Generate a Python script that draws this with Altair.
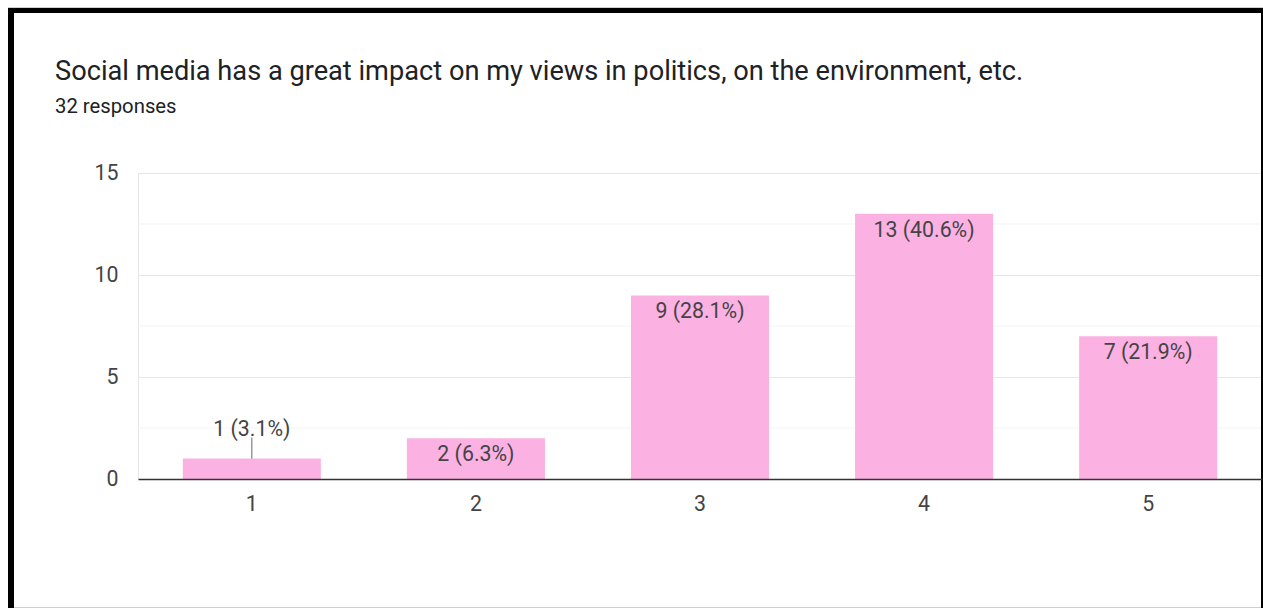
import altair as alt
import pandas as pd

# ---- data ----
categories = ["1", "2", "3", "4", "5"]
counts = [1, 2, 9, 13, 7]
percents = ["3.1%", "6.3%", "28.1%", "40.6%", "21.9%"]
y_ticks = [0, 5, 10, 15]
minor_ticks = [2.5, 7.5, 12.5]
title_text = "Social media has a great impact on my views in politics, on the environment, etc."
subtitle_text = "32 responses"

df = pd.DataFrame({
    "cat": categories,
    "count": counts,
    "label": [f"{c} ({p})" for c, p in zip(counts, percents)],
})
minor_df = pd.DataFrame({"v": minor_ticks})

W, H = 1124, 306
PAD = {"left": 138, "top": 173, "right": 1, "bottom": 129}
BAR = "#fcb1e3"
TXT = "#444444"
FONT = "Roboto"
FS = 21.3

x_enc = alt.X(
    "cat:N",
    sort=categories,
    scale=alt.Scale(paddingInner=0.384, paddingOuter=0.2),
    axis=alt.Axis(
        title=None, labelAngle=0, ticks=False, tickSize=0, domainColor="#333333",
        domainWidth=1.5, labelFontSize=FS, labelColor=TXT, labelFont=FONT,
        labelPadding=14, grid=False, zindex=1,
    ),
)
y_scale = alt.Scale(domain=[0, 15], nice=False)
y_enc = alt.Y(
    "count:Q",
    scale=y_scale,
    axis=alt.Axis(
        title=None, values=y_ticks, ticks=False, tickSize=0, domainColor="#e6e6e6",
        gridColor="#e6e6e6", labelFontSize=FS, labelColor=TXT, labelFont=FONT,
        labelPadding=20,
    ),
)

minor = alt.Chart(minor_df).mark_rule(color="#f3f3f3", strokeWidth=1).encode(
    y=alt.Y("v:Q", scale=y_scale)
)

bars = alt.Chart(df).mark_bar(color=BAR).encode(x=x_enc, y=y_enc)

inside = alt.Chart(df).transform_filter(alt.datum.count >= 2).mark_text(
    baseline="top", dy=6, fontSize=FS, font=FONT, color=TXT
).encode(x=alt.X("cat:N", sort=categories), y=alt.Y("count:Q", scale=y_scale), text="label:N")

outside = alt.Chart(df).transform_filter(alt.datum.count < 2).mark_text(
    baseline="alphabetic", dy=-23, fontSize=FS, font=FONT, color=TXT
).encode(x=alt.X("cat:N", sort=categories), y=alt.Y("count:Q", scale=y_scale), text="label:N")

leader = alt.Chart(df).transform_filter(alt.datum.count < 2).mark_rule(
    color="#666666", strokeWidth=1, y2Offset=-21
).encode(x=alt.X("cat:N", sort=categories), y=alt.Y("count:Q", scale=y_scale), y2="count:Q")

# title and subtitle as text
title_df = pd.DataFrame({"t": [title_text]})
sub_df = pd.DataFrame({"t": [subtitle_text]})
title = alt.Chart(title_df).mark_text(
    align="left", baseline="alphabetic", fontSize=27.2, font=FONT, color="#202124"
).encode(text="t:N", x=alt.value(55 - PAD["left"]), y=alt.value(80 - PAD["top"]))
subtitle = alt.Chart(sub_df).mark_text(
    align="left", baseline="alphabetic", fontSize=20.3, font=FONT, color="#202124"
).encode(text="t:N", x=alt.value(55 - PAD["left"]), y=alt.value(113 - PAD["top"]))

# screenshot frame (decoration)
frame_df = pd.DataFrame({"k": [0]})
L, T = PAD["left"], PAD["top"]
top_bar = alt.Chart(frame_df).mark_rule(color="black", strokeWidth=5).encode(
    x=alt.value(8 - L), x2=alt.value(1263 - L), y=alt.value(10.5 - T))
top_gray = alt.Chart(frame_df).mark_rule(color="#cfcfcf", strokeWidth=1).encode(
    x=alt.value(8 - L), x2=alt.value(1263 - L), y=alt.value(7.5 - T))
left_bar = alt.Chart(frame_df).mark_rule(color="black", strokeWidth=6).encode(
    x=alt.value(11 - L), y=alt.value(8 - T), y2=alt.value(608 - T))
right_bar = alt.Chart(frame_df).mark_rule(color="black", strokeWidth=2).encode(
    x=alt.value(1262 - L), y=alt.value(8 - T), y2=alt.value(608 - T))
bottom_gray = alt.Chart(frame_df).mark_rule(color="#d0d0d0", strokeWidth=1).encode(
    x=alt.value(14 - L), x2=alt.value(1261 - L), y=alt.value(607.5 - T))

chart = alt.layer(
    minor, bars, inside, outside, leader, title, subtitle,
    top_gray, top_bar, left_bar, right_bar, bottom_gray,
).properties(
    width=W, height=H, padding=PAD, autosize=alt.AutoSizeParams(type="none"),
    background="white",
).configure_view(strokeWidth=0)

chart.save("out.html", embed_options={"renderer": "svg", "actions": False})
